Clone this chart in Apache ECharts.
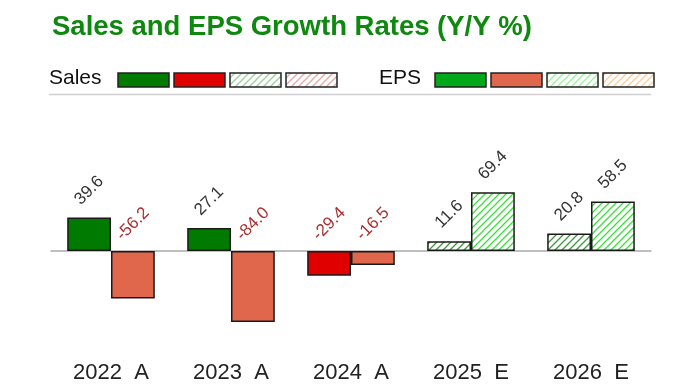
<!DOCTYPE html>
<html><head><meta charset="utf-8">
<script src="https://cdn.jsdelivr.net/npm/echarts@6/dist/echarts.min.js"></script>
<style>html,body{margin:0;padding:0;background:#fff}#c{width:700px;height:387px}</style>
</head><body><div id="c"></div>
<script>
const categories = ['2022  A', '2023  A', '2024  A', '2025  E', '2026  E'];
const salesValues = [39.6, 27.1, -29.4, 11.6, 20.8];
const epsValues = [-56.2, -84.0, -16.5, 69.4, 58.5];
const isEstimate = [false, false, false, true, true];
const titleText = 'Sales and EPS Growth Rates (Y/Y %)';

function hatch(stroke, bg) {
  const s = 7;
  const c = document.createElement('canvas');
  c.width = s; c.height = s;
  const g = c.getContext('2d');
  g.fillStyle = bg; g.fillRect(0, 0, s, s);
  g.strokeStyle = stroke; g.lineWidth = 1.3;
  g.beginPath();
  g.moveTo(-1, s + 1); g.lineTo(s + 1, -1);
  g.moveTo(-1, 1); g.lineTo(1, -1);
  g.moveTo(s - 1, s + 1); g.lineTo(s + 1, s - 1);
  g.stroke();
  return { image: c, repeat: 'repeat' };
}

const salesFills = ['#007a00', '#e00000', hatch('#3c9a3c', '#ffffff'), hatch('#e08a8a', '#ffffff')];
const epsFills = ['#00a81a', '#e0674c', hatch('#3ae03a', '#ffffff'), hatch('#ffbb77', '#ffffff')];
const legendSalesFills = ['#007a00', '#e00000', hatch('#9ed09e', '#ffffff'), hatch('#e8a8a8', '#ffffff')];
const legendEpsFills = ['#00a81a', '#e0674c', hatch('#9af59a', '#ffffff'), hatch('#ffcc99', '#ffffff')];

function pick(fills, v, est) {
  return fills[(est ? 2 : 0) + (v < 0 ? 1 : 0)];
}

function build(values, fills) {
  return values.map((v, i) => ({
    value: v,
    itemStyle: { color: pick(fills, v, isEstimate[i]) },
    label: { color: v < 0 ? '#a83232' : '#333333' }
  }));
}

const labelCfg = {
  show: true,
  position: ['50%', -27],
  rotate: 45,
  align: 'center',
  verticalAlign: 'middle',
  fontFamily: 'Liberation Sans, Arial, sans-serif',
  fontSize: 17,
  formatter: p => p.value.toFixed(1)
};

const graphic = [];
function legendGroup(x0, label, fills, textW) {
  graphic.push({ type: 'text', left: x0, top: 68, style: { text: label, font: '21px "Liberation Sans", Arial, sans-serif', fill: '#111' } });
  fills.forEach((f, i) => {
    graphic.push({ type: 'rect', shape: { x: x0 + textW + i * 56, y: 73, width: 51, height: 14 },
      style: { fill: f, stroke: '#222', lineWidth: 1.5 } });
  });
}
legendGroup(49, 'Sales', legendSalesFills, 69);
legendGroup(379, 'EPS', legendEpsFills, 56);
graphic.push({ type: 'line', shape: { x1: 49, y1: 94.5, x2: 651, y2: 94.5 }, style: { stroke: '#d0d0d0', lineWidth: 1.5 } });

const chart = echarts.init(document.getElementById('c'), null, { renderer: 'canvas' });
chart.setOption({
  animation: false,
  title: {
    text: titleText, left: 47, top: 8,
    textStyle: { color: '#0f880f', fontSize: 27.5, fontWeight: 'bold', fontFamily: 'Liberation Sans, Arial, sans-serif' }
  },
  graphic: graphic,
  grid: { left: 51, right: 49, top: 166.5, bottom: 51.5 },
  xAxis: [{
    type: 'category', data: categories,
    axisLine: { show: true, onZero: true, lineStyle: { color: '#aaaaaa', width: 1.5 } },
    axisTick: { show: false },
    axisLabel: { show: false }
  }, {
    type: 'category', data: categories, position: 'bottom',
    axisLine: { show: false, onZero: false },
    axisTick: { show: false },
    axisLabel: { show: true, margin: 26, color: '#222', fontSize: 22, fontFamily: 'Liberation Sans, Arial, sans-serif' }
  }],
  yAxis: {
    type: 'value', min: -100, max: 100, show: false, splitLine: { show: false }
  },
  series: [
    { name: 'Sales', type: 'bar', data: build(salesValues, salesFills), barGap: '0%', barCategoryGap: '27%',
      itemStyle: { borderColor: '#1a1a1a', borderWidth: 1.5 }, label: labelCfg, z: 2 },
    { name: 'EPS', type: 'bar', data: build(epsValues, epsFills), barGap: '0%', barCategoryGap: '27%',
      itemStyle: { borderColor: '#1a1a1a', borderWidth: 1.5 }, label: labelCfg, z: 2 }
  ]
});
</script>
</body></html>
